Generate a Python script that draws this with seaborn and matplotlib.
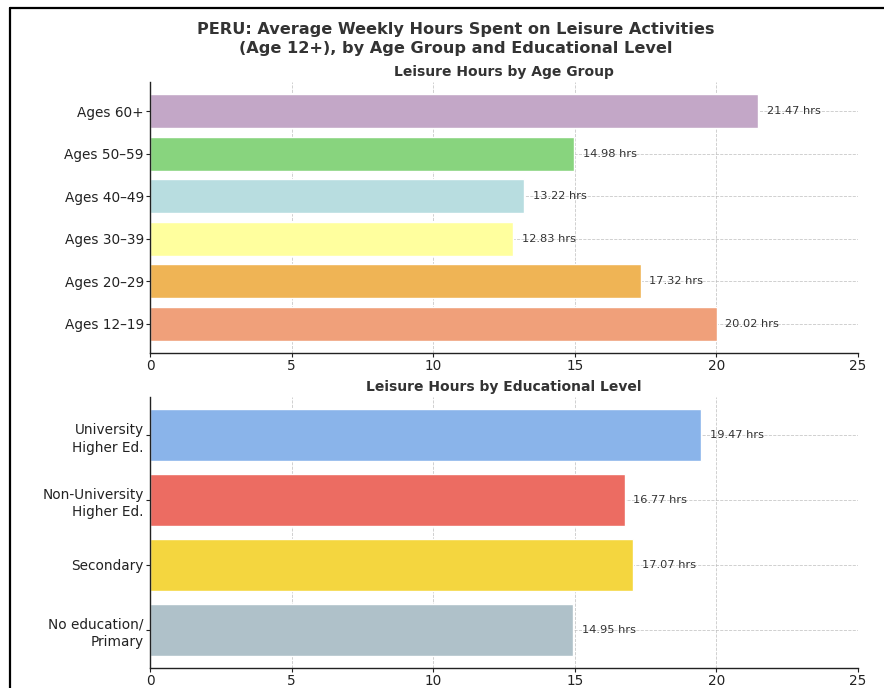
import matplotlib
matplotlib.use("Agg")
import matplotlib.pyplot as plt
from matplotlib.lines import Line2D
import seaborn as sns
import pandas as pd

# Leisure hours by age group (listed top to bottom)
age_groups = ["Ages 60+", "Ages 50–59", "Ages 40–49", "Ages 30–39", "Ages 20–29", "Ages 12–19"]
age_hours = [21.47, 14.98, 13.22, 12.83, 17.32, 20.02]
age_colors = ["#C3A7C7", "#88D47E", "#B8DDE0", "#FFFF9E", "#EFB455", "#F0A07A"]

# Leisure hours by educational level (listed top to bottom)
edu_levels = ["University\nHigher Ed.", "Non-University\nHigher Ed.", "Secondary", "No education/\nPrimary"]
edu_hours = [19.47, 16.77, 17.07, 14.95]
edu_colors = ["#8AB4EA", "#EC6C62", "#F4D63F", "#AFC1C9"]

x_ticks = [0, 5, 10, 15, 20, 25]

sns.set_style("white")
plt.rcParams["font.family"] = ["DejaVu Sans"]

fig = plt.figure(figsize=(8.84, 6.88), dpi=100)
ax_top = fig.add_axes([0.1697, 0.4869, 0.8009, 0.3939])
ax_bot = fig.add_axes([0.1697, 0.0291, 0.8009, 0.3939])

TEXT = "#333333"


def draw_panel(ax, cats, vals, colors, title):
    df = pd.DataFrame({"cat": cats, "val": vals})
    sns.barplot(data=df, y="cat", x="val", hue="cat", palette=colors,
                order=cats, hue_order=cats, legend=False, width=0.8,
                edgecolor="white", linewidth=1, saturation=1, ax=ax)
    n = len(cats)
    # same padding as matplotlib's default 5% data margin
    m = 0.4 + 0.05 * (n - 0.2)
    ax.set_ylim(n - 1 + m, -m)
    ax.set_xlim(0, 25)
    ax.set_xticks(x_ticks)
    ax.set_xlabel("")
    ax.set_ylabel("")
    ax.set_axisbelow(True)
    ax.grid(True, axis="both", linestyle="--", color="#bbbbbb", linewidth=0.6, alpha=0.8)
    for s in ("top", "right"):
        ax.spines[s].set_visible(False)
    for s in ("left", "bottom"):
        ax.spines[s].set_color("#222222")
        ax.spines[s].set_linewidth(1.0)
    ax.tick_params(axis="both", which="major", length=3, width=0.8, color="#222222",
                   labelsize=9.8, labelcolor="#222222", left=True, bottom=True, pad=1.5)
    for lbl in ax.get_yticklabels():
        lbl.set_linespacing(1.35)
    for i, v in enumerate(vals):
        ax.text(v + 0.3, i, f"{v:.2f} hrs", va="center", ha="left",
                fontsize=8.2, color=TEXT)
    ax.set_title(title, fontsize=10.0, fontweight="bold", color=TEXT, pad=4.5)


draw_panel(ax_top, age_groups, age_hours, age_colors, "Leisure Hours by Age Group")
draw_panel(ax_bot, edu_levels, edu_hours, edu_colors, "Leisure Hours by Educational Level")

fig.text(0.516, 0.943,
         "PERU: Average Weekly Hours Spent on Leisure Activities\n(Age 12+), by Age Group and Educational Level",
         ha="center", va="center", fontsize=11.6, fontweight="bold", color=TEXT,
         linespacing=1.3)

# Figure frame edge
x0 = 10 / 884
y0 = 1 - 8 / 688
fig.add_artist(Line2D([x0, x0], [0, y0], transform=fig.transFigure, color="black", linewidth=1.6))
fig.add_artist(Line2D([x0, 1], [y0, y0], transform=fig.transFigure, color="black", linewidth=1.6))

fig.savefig("out.png", dpi=100)
